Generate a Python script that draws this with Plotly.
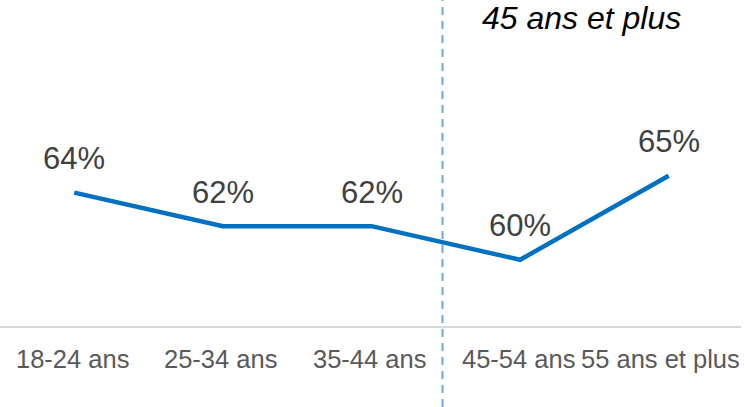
import plotly.graph_objects as go

categories = ["18-24 ans", "25-34 ans", "35-44 ans", "45-54 ans", "55 ans et plus"]
values = [64, 62, 62, 60, 65]
labels = ["64%", "62%", "62%", "60%", "65%"]
group_label = "45 ans et plus"

FONT = "Arial, Liberation Sans, sans-serif"
PLOT_H = 327
PLOT_W = 743

fig = go.Figure()
fig.add_trace(go.Scatter(
    x=list(range(len(categories))), y=values, mode="lines",
    line=dict(color="#0070C0", width=4.5), hoverinfo="skip", showlegend=False,
))

for i, (v, t) in enumerate(zip(values, labels)):
    fig.add_annotation(x=i, y=v, text=t, showarrow=False, xref="x", yref="y",
                       yanchor="middle", yshift=34,
                       font=dict(family=FONT, size=31, color="#404040"))

for i, c in enumerate(categories):
    if i == len(categories) - 1:
        fig.add_annotation(x=742 / PLOT_W, y=-32 / PLOT_H, text=c, showarrow=False,
                           xref="paper", yref="paper", yanchor="middle", xanchor="right",
                           font=dict(family=FONT, size=25.5, color="#595959"))
    else:
        fig.add_annotation(x=i, y=-32 / PLOT_H, text=c, showarrow=False, xref="x", yref="paper",
                           yanchor="middle", xanchor="center", xshift=-2,
                           font=dict(family=FONT, size=25.5, color="#595959"))

fig.add_annotation(x=3.415, y=1 - 18 / PLOT_H, xref="x", yref="paper", text="<i>" + group_label + "</i>",
                   showarrow=False, yanchor="middle", xanchor="center",
                   font=dict(family=FONT, size=32, color="#000000"))

fig.add_shape(type="line", x0=2.478, x1=2.478, xref="x", y0=-80 / PLOT_H, y1=1, yref="paper",
              line=dict(color="#6FA8DC", width=2, dash="8px,6px"))

fig.add_shape(type="line", x0=0, x1=741 / PLOT_W, xref="paper", y0=0, y1=0, yref="paper",
              line=dict(color="#D9D9D9", width=2), layer="below")

fig.update_layout(
    width=744, height=407,
    margin=dict(l=0, r=1, t=0, b=80, autoexpand=False),
    paper_bgcolor="white", plot_bgcolor="white",
    xaxis=dict(range=[-0.5, 4.5], showticklabels=False, showgrid=False, zeroline=False,
               showline=False, ticks="", automargin=False, fixedrange=True),
    yaxis=dict(range=[56.0, 75.46], visible=False, showgrid=False, zeroline=False,
               automargin=False),
)

fig.write_html("out.html", config={"displayModeBar": False},
               post_script="document.body.style.margin='0';document.body.style.overflow='hidden';")
